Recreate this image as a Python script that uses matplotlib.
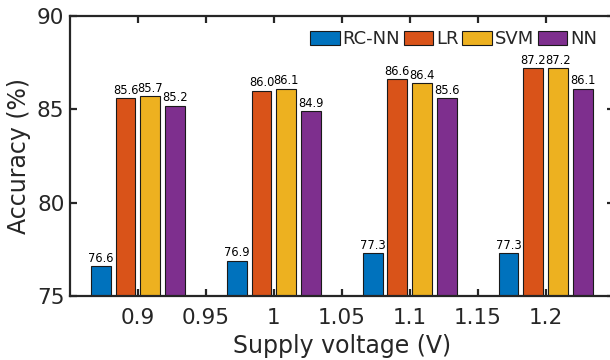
"""
Grouped bar chart: classifier accuracy vs supply voltage.
"""

import matplotlib

matplotlib.use("Agg")  # no display
import matplotlib.pyplot as plt
import numpy as np

voltages = [0.9, 1.0, 1.1, 1.2]
models = ["RC-NN", "LR", "SVM", "NN"]
acc_rcnn = [76.6, 76.9, 77.3, 77.3]
acc_lr = [85.6, 86.0, 86.6, 87.2]
acc_svm = [85.7, 86.1, 86.4, 87.2]
acc_nn = [85.2, 84.9, 85.6, 86.1]
xticks = [0.9, 0.95, 1.0, 1.05, 1.1, 1.15, 1.2]
xtick_labels = ["0.9", "0.95", "1", "1.05", "1.1", "1.15", "1.2"]
yticks = [75, 80, 85, 90]

# MATLAB default colour order
colors = ["#0072BD", "#D95319", "#EDB120", "#7E2F8E"]
axis_color = "#262626"

plt.rcParams["font.family"] = "DejaVu Sans"

fig = plt.figure(figsize=(6.1, 3.6), dpi=100)
ax = fig.add_axes([70 / 610, 64 / 360, 543.5 / 610, 280 / 360])

series = [acc_rcnn, acc_lr, acc_svm, acc_nn]
n = len(series)
group_w = min(0.8, n / (n + 1.5)) * 0.1
step = group_w / n
bar_w = 0.8 * step
x = np.array(voltages)

for i, (vals, name) in enumerate(zip(series, models)):
    pos = x - group_w / 2 + step * (i + 0.5)
    bars = ax.bar(pos, np.array(vals) - 75, width=bar_w, bottom=75,
                  color=colors[i], edgecolor="#1a1a1a", linewidth=0.8,
                  label=name, zorder=2)
    for b, v in zip(bars, vals):
        ax.text(b.get_x() + b.get_width() / 2, v + 0.08, f"{v:.1f}",
                ha="center", va="bottom", fontsize=8.3, color="black")

ax.set_xlim(0.85, 1.25)
ax.set_ylim(75, 90)
ax.set_xticks(xticks)
ax.set_xticklabels(xtick_labels)
ax.set_yticks(yticks)

for s in ax.spines.values():
    s.set_linewidth(1.6)
    s.set_color(axis_color)
ax.tick_params(direction="in", length=5, width=1.6, color=axis_color,
               labelcolor=axis_color, labelsize=15.5, top=True, right=True)
ax.tick_params(axis="x", pad=9)
ax.tick_params(axis="y", pad=4)

ax.set_xlabel("Supply voltage (V)", fontsize=17, color=axis_color, labelpad=4)
ax.set_ylabel("Accuracy (%)", fontsize=17, color=axis_color, labelpad=4)

leg = ax.legend(loc="upper right", bbox_to_anchor=(0.993, 0.995), ncol=4,
                frameon=False, fontsize=13, handlelength=1.65,
                handleheight=0.85, handletextpad=0.15, columnspacing=0.2,
                borderaxespad=0.3)
for t in leg.get_texts():
    t.set_color(axis_color)

fig.savefig("out.png", dpi=100)
plt.close(fig)
